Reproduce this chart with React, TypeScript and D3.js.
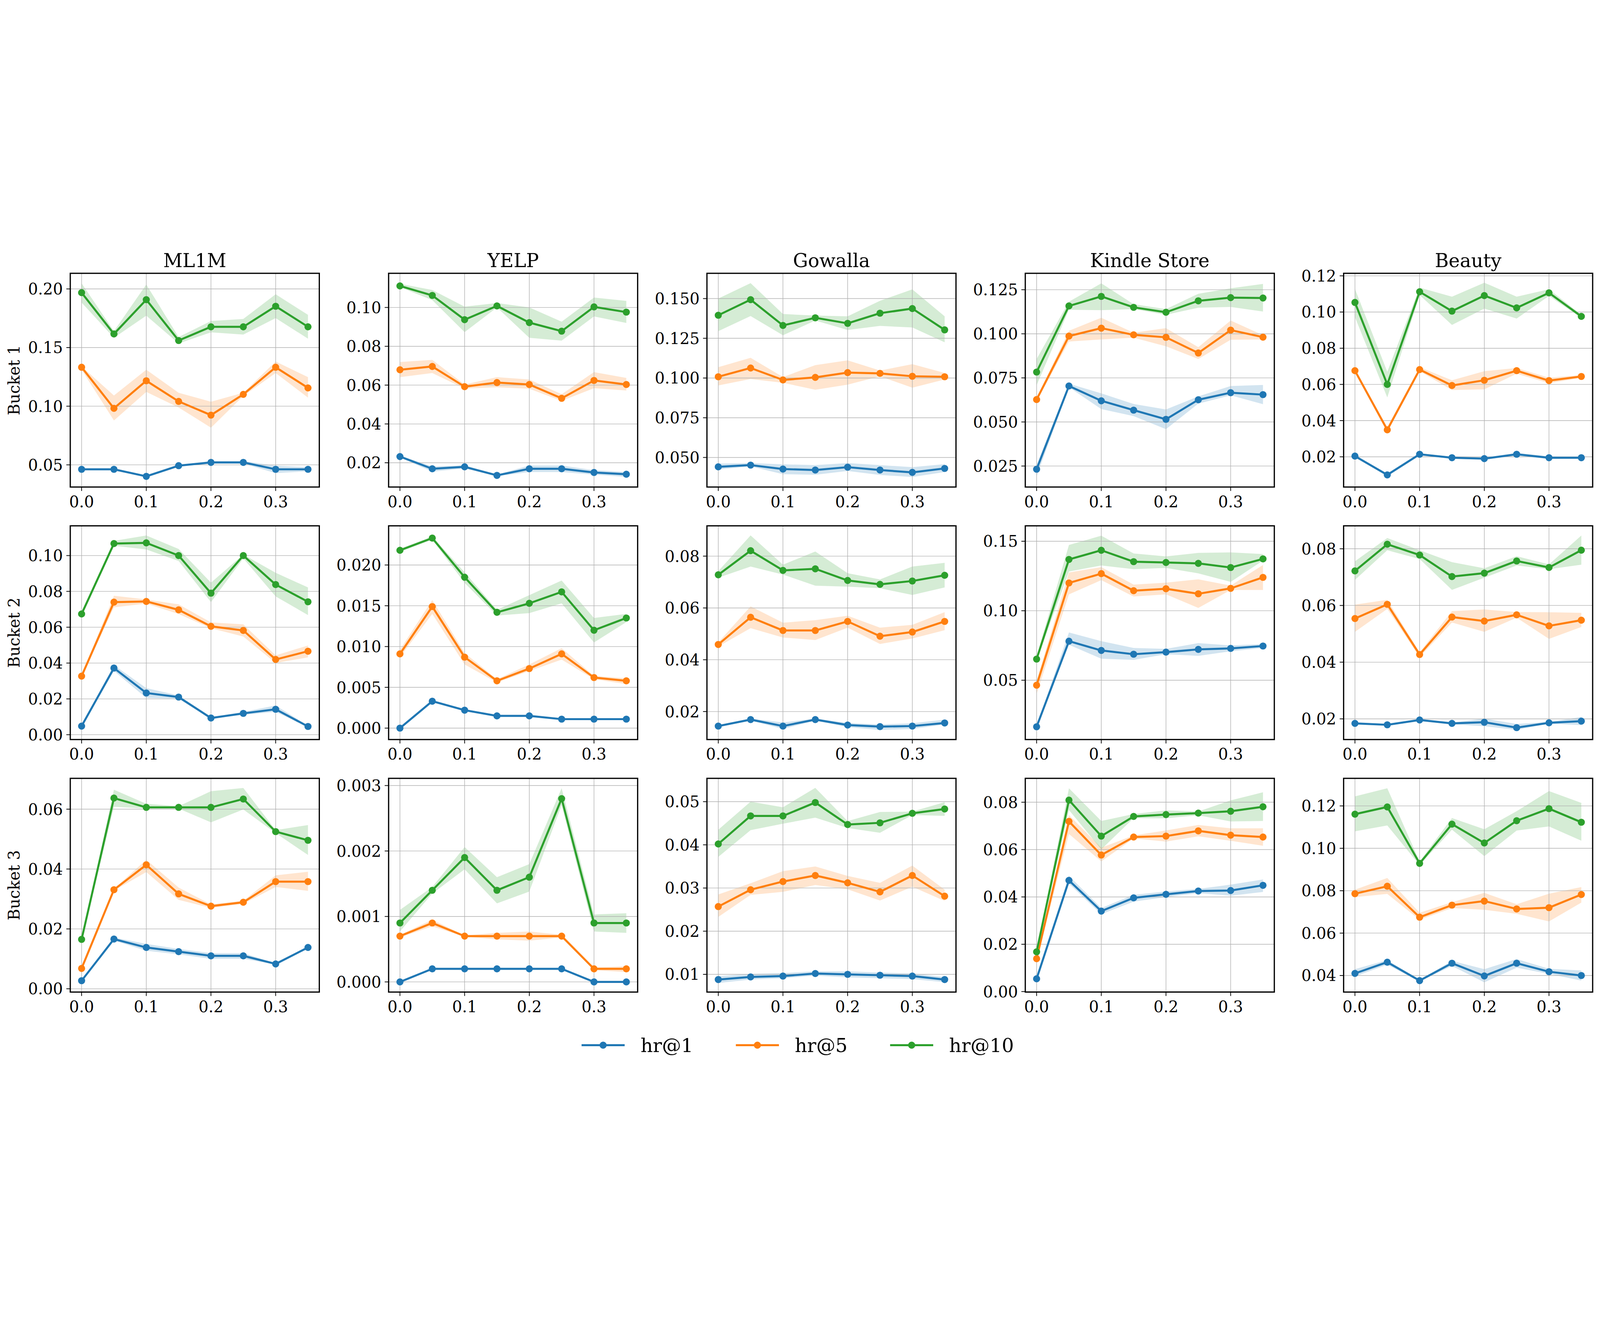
import React from "react"
import * as d3 from "d3"

const xs = [0, 0.05, 0.1, 0.15, 0.2, 0.25, 0.3, 0.35]
const xTicks = [0, 0.1, 0.2, 0.3]
const datasets = ["ML1M", "YELP", "Gowalla", "Kindle Store", "Beauty"]
const buckets = ["Bucket 1", "Bucket 2", "Bucket 3"]
const metrics = ["hr@1", "hr@5", "hr@10"]
const colors = ["#1f77b4", "#ff7f0e", "#2ca02c"]

// ---- Bucket 1 (rows: ML1M, YELP, Gowalla, Kindle Store, Beauty)
const hr1B1 = [
  [0.0462, 0.0462, 0.0402, 0.0493, 0.0521, 0.0521, 0.0462, 0.0462],
  [0.0232, 0.0169, 0.0179, 0.0135, 0.0169, 0.0169, 0.015, 0.0141],
  [0.0441, 0.0452, 0.0427, 0.0421, 0.0439, 0.0421, 0.0406, 0.0431],
  [0.0232, 0.0704, 0.062, 0.0567, 0.0515, 0.0626, 0.0666, 0.0655],
  [0.0204, 0.01, 0.0214, 0.0195, 0.019, 0.0214, 0.0195, 0.0195],
]
const hr1B1Lo = [
  [0.0452, 0.0452, 0.0398, 0.0488, 0.051, 0.051, 0.043, 0.0445],
  [0.0227, 0.0154, 0.0171, 0.0131, 0.0152, 0.0152, 0.0139, 0.0127],
  [0.0424, 0.0444, 0.0395, 0.0391, 0.0415, 0.039, 0.0377, 0.0408],
  [0.0192, 0.0697, 0.0573, 0.0533, 0.0459, 0.0604, 0.0651, 0.0601],
  [0.0199, 0.0093, 0.0209, 0.019, 0.0185, 0.0206, 0.0188, 0.0189],
]
const hr1B1Hi = [
  [0.0472, 0.0472, 0.0406, 0.0498, 0.0532, 0.0532, 0.0493, 0.048],
  [0.0237, 0.0181, 0.0187, 0.0139, 0.0186, 0.0186, 0.0162, 0.0152],
  [0.0462, 0.0465, 0.0457, 0.0452, 0.0465, 0.0452, 0.0439, 0.0458],
  [0.0257, 0.0717, 0.0662, 0.0602, 0.0571, 0.0645, 0.0704, 0.071],
  [0.0209, 0.0107, 0.0219, 0.02, 0.0195, 0.0222, 0.0202, 0.0201],
]
const hr5B1 = [
  [0.1332, 0.0982, 0.1217, 0.1041, 0.0924, 0.1101, 0.1332, 0.1156],
  [0.0679, 0.0696, 0.0592, 0.0613, 0.0603, 0.0532, 0.0624, 0.0603],
  [0.1008, 0.1063, 0.0988, 0.1004, 0.1034, 0.1029, 0.1011, 0.1008],
  [0.0627, 0.0987, 0.1032, 0.0994, 0.098, 0.0891, 0.1021, 0.0981],
  [0.0676, 0.0349, 0.0682, 0.0594, 0.0623, 0.0676, 0.0621, 0.0644],
]
const hr5B1Lo = [
  [0.1311, 0.0878, 0.1122, 0.0989, 0.0817, 0.1087, 0.1283, 0.1073],
  [0.0641, 0.0662, 0.0582, 0.0589, 0.0581, 0.0519, 0.0584, 0.0572],
  [0.0953, 0.0994, 0.097, 0.0926, 0.0958, 0.1011, 0.0939, 0.0991],
  [0.0617, 0.0956, 0.0968, 0.0978, 0.0929, 0.0857, 0.0966, 0.0968],
  [0.0668, 0.0338, 0.0673, 0.0569, 0.0573, 0.0659, 0.0607, 0.0636],
]
const hr5B1Hi = [
  [0.1339, 0.1091, 0.1311, 0.1115, 0.1038, 0.1115, 0.1381, 0.1248],
  [0.0719, 0.073, 0.0603, 0.0641, 0.0629, 0.0553, 0.0667, 0.0637],
  [0.1068, 0.1127, 0.1006, 0.1081, 0.1111, 0.1047, 0.1087, 0.1032],
  [0.0637, 0.1017, 0.1091, 0.1006, 0.1032, 0.0924, 0.1075, 0.0992],
  [0.0684, 0.0365, 0.0695, 0.0623, 0.0673, 0.0691, 0.0637, 0.0652],
]
const hr10B1 = [
  [0.1968, 0.1616, 0.1908, 0.156, 0.1677, 0.1677, 0.1852, 0.1677],
  [0.1111, 0.1062, 0.0937, 0.1008, 0.0922, 0.0878, 0.1003, 0.0976],
  [0.1395, 0.1493, 0.1331, 0.1379, 0.1344, 0.1408, 0.1437, 0.1303],
  [0.0783, 0.1158, 0.1212, 0.115, 0.1122, 0.1187, 0.1205, 0.1203],
  [0.1053, 0.06, 0.1112, 0.1005, 0.1091, 0.1023, 0.1106, 0.0976],
]
const hr10B1Lo = [
  [0.1884, 0.1583, 0.1772, 0.1535, 0.163, 0.1611, 0.1751, 0.1576],
  [0.1105, 0.1038, 0.0873, 0.1, 0.0844, 0.0829, 0.0954, 0.092],
  [0.1295, 0.139, 0.1269, 0.1362, 0.1302, 0.1328, 0.1318, 0.1225],
  [0.0708, 0.1136, 0.1134, 0.114, 0.1108, 0.1148, 0.1152, 0.1126],
  [0.0972, 0.0528, 0.1094, 0.0929, 0.1019, 0.0964, 0.1089, 0.0967],
]
const hr10B1Hi = [
  [0.2048, 0.164, 0.2038, 0.159, 0.1726, 0.1744, 0.1954, 0.1779],
  [0.1122, 0.109, 0.1004, 0.1023, 0.1, 0.0927, 0.1051, 0.1034],
  [0.15, 0.1597, 0.1403, 0.1393, 0.1388, 0.1486, 0.1558, 0.1388],
  [0.0857, 0.1182, 0.1286, 0.1168, 0.114, 0.1227, 0.1258, 0.1283],
  [0.1128, 0.067, 0.1135, 0.1085, 0.1162, 0.1085, 0.1126, 0.0985],
]

// ---- Bucket 2
const hr1B2 = [
  [0.0048, 0.0372, 0.0233, 0.021, 0.0093, 0.0119, 0.0142, 0.0046],
  [0.0, 0.0033, 0.0022, 0.0015, 0.0015, 0.0011, 0.0011, 0.0011],
  [0.0144, 0.0169, 0.0144, 0.0169, 0.0148, 0.0142, 0.0144, 0.0156],
  [0.0165, 0.0781, 0.0714, 0.0687, 0.0702, 0.0722, 0.0729, 0.0746],
  [0.0184, 0.0179, 0.0196, 0.0184, 0.0188, 0.0169, 0.0186, 0.0192],
]
const hr1B2Lo = [
  [0.0044, 0.0356, 0.0205, 0.0201, 0.0089, 0.0111, 0.0128, 0.0042],
  [0.0, 0.0032, 0.0021, 0.0014, 0.0014, 0.001, 0.001, 0.001],
  [0.014, 0.0165, 0.0133, 0.0165, 0.014, 0.0129, 0.0133, 0.015],
  [0.016, 0.0755, 0.0655, 0.0646, 0.0687, 0.0675, 0.0708, 0.0732],
  [0.0181, 0.0176, 0.0193, 0.0181, 0.0174, 0.0161, 0.0183, 0.0178],
]
const hr1B2Hi = [
  [0.0052, 0.0388, 0.026, 0.0219, 0.0097, 0.0127, 0.0163, 0.005],
  [0.0, 0.0034, 0.0023, 0.0016, 0.0016, 0.0012, 0.0012, 0.0012],
  [0.0148, 0.0173, 0.0158, 0.0173, 0.0156, 0.015, 0.0155, 0.0169],
  [0.017, 0.0844, 0.0781, 0.0732, 0.0726, 0.0767, 0.075, 0.076],
  [0.0187, 0.0182, 0.0199, 0.0187, 0.0201, 0.0182, 0.0189, 0.0207],
]
const hr5B2 = [
  [0.0327, 0.074, 0.0744, 0.0697, 0.0605, 0.0582, 0.042, 0.0466],
  [0.0091, 0.0149, 0.0087, 0.0058, 0.0073, 0.0091, 0.0062, 0.0058],
  [0.0459, 0.0564, 0.0513, 0.0513, 0.0548, 0.0491, 0.0507, 0.0548],
  [0.0464, 0.12, 0.1267, 0.1144, 0.1158, 0.1122, 0.1161, 0.124],
  [0.0554, 0.0604, 0.0427, 0.0559, 0.0545, 0.0567, 0.0528, 0.0548],
]
const hr5B2Lo = [
  [0.0322, 0.0711, 0.0732, 0.0674, 0.0594, 0.0548, 0.04, 0.0432],
  [0.0087, 0.014, 0.0078, 0.0056, 0.007, 0.0084, 0.006, 0.0054],
  [0.0451, 0.0522, 0.0486, 0.0476, 0.0524, 0.0461, 0.0482, 0.0514],
  [0.0402, 0.1118, 0.122, 0.1102, 0.1118, 0.102, 0.1149, 0.1149],
  [0.0507, 0.0588, 0.0418, 0.054, 0.0507, 0.0557, 0.0482, 0.0524],
]
const hr5B2Hi = [
  [0.0332, 0.0776, 0.0755, 0.0728, 0.0627, 0.0616, 0.0443, 0.0498],
  [0.0096, 0.0157, 0.0092, 0.006, 0.0078, 0.0098, 0.0064, 0.0061],
  [0.0467, 0.0606, 0.0543, 0.0553, 0.057, 0.0524, 0.0535, 0.0584],
  [0.0496, 0.1275, 0.1314, 0.1188, 0.1202, 0.1226, 0.1181, 0.1329],
  [0.0603, 0.062, 0.0435, 0.058, 0.0586, 0.0577, 0.0576, 0.0574],
]
const hr10B2 = [
  [0.0674, 0.1067, 0.1071, 0.1, 0.079, 0.1, 0.0838, 0.0742],
  [0.0218, 0.0233, 0.0185, 0.0142, 0.0153, 0.0167, 0.012, 0.0135],
  [0.0728, 0.0821, 0.0745, 0.0751, 0.0706, 0.0691, 0.0704, 0.0726],
  [0.0652, 0.1369, 0.1435, 0.1353, 0.1347, 0.1341, 0.1311, 0.1373],
  [0.0722, 0.0816, 0.0778, 0.0702, 0.0714, 0.0757, 0.0734, 0.0795],
]
const hr10B2Lo = [
  [0.0668, 0.1055, 0.1034, 0.097, 0.074, 0.0984, 0.0772, 0.0668],
  [0.0216, 0.0231, 0.0178, 0.0138, 0.0141, 0.0153, 0.0105, 0.013],
  [0.0717, 0.076, 0.0729, 0.0686, 0.0682, 0.0676, 0.065, 0.0679],
  [0.064, 0.1282, 0.1326, 0.1299, 0.1308, 0.1269, 0.1208, 0.1361],
  [0.069, 0.0795, 0.0764, 0.0655, 0.0698, 0.0741, 0.0728, 0.0744],
]
const hr10B2Hi = [
  [0.068, 0.1082, 0.1112, 0.1037, 0.0849, 0.1006, 0.0904, 0.0822],
  [0.022, 0.0235, 0.0191, 0.0145, 0.0163, 0.0181, 0.0135, 0.014],
  [0.0742, 0.088, 0.0767, 0.0818, 0.0734, 0.071, 0.076, 0.0774],
  [0.0673, 0.1473, 0.154, 0.1412, 0.1391, 0.1416, 0.142, 0.1408],
  [0.0756, 0.0838, 0.0795, 0.0753, 0.0731, 0.0774, 0.0745, 0.0847],
]

// ---- Bucket 3
const hr1B3 = [
  [0.0027, 0.0166, 0.0138, 0.0124, 0.011, 0.011, 0.0083, 0.0138],
  [0.0, 0.0002, 0.0002, 0.0002, 0.0002, 0.0002, 0.0, 0.0],
  [0.0088, 0.0094, 0.0096, 0.0102, 0.01, 0.0098, 0.0096, 0.0088],
  [0.0054, 0.047, 0.034, 0.0396, 0.0411, 0.0425, 0.0427, 0.0449],
  [0.041, 0.0463, 0.0376, 0.0458, 0.0398, 0.0458, 0.0418, 0.04],
]
const hr1B3Lo = [
  [0.0025, 0.0161, 0.0127, 0.0115, 0.01, 0.01, 0.0081, 0.0136],
  [0.0, 0.0002, 0.0002, 0.0002, 0.0002, 0.0002, 0.0, 0.0],
  [0.008, 0.0088, 0.0091, 0.0097, 0.0093, 0.0091, 0.0089, 0.0082],
  [0.0048, 0.0456, 0.0327, 0.038, 0.0399, 0.0416, 0.0405, 0.0421],
  [0.0396, 0.0451, 0.0372, 0.0445, 0.0368, 0.0437, 0.0408, 0.0376],
]
const hr1B3Hi = [
  [0.0029, 0.0171, 0.015, 0.0133, 0.0119, 0.0119, 0.0085, 0.014],
  [0.0, 0.0002, 0.0002, 0.0002, 0.0002, 0.0002, 0.0, 0.0],
  [0.0096, 0.0101, 0.0103, 0.0107, 0.0107, 0.0104, 0.0102, 0.0094],
  [0.006, 0.0489, 0.0353, 0.0409, 0.0423, 0.0434, 0.0452, 0.0474],
  [0.043, 0.0473, 0.038, 0.0469, 0.043, 0.0478, 0.0432, 0.0424],
]
const hr5B3 = [
  [0.0068, 0.0331, 0.0414, 0.0317, 0.0276, 0.0289, 0.0358, 0.0358],
  [0.0007, 0.0009, 0.0007, 0.0007, 0.0007, 0.0007, 0.0002, 0.0002],
  [0.0257, 0.0296, 0.0315, 0.0329, 0.0312, 0.0291, 0.0329, 0.0281],
  [0.0139, 0.0719, 0.0577, 0.0653, 0.0657, 0.0679, 0.0661, 0.0653],
  [0.0786, 0.0821, 0.0675, 0.0732, 0.0751, 0.0714, 0.072, 0.0782],
]
const hr5B3Lo = [
  [0.0065, 0.0328, 0.039, 0.0297, 0.027, 0.0284, 0.034, 0.0327],
  [0.00068, 0.00085, 0.00069, 0.00065, 0.00063, 0.00068, 0.00018, 0.00015],
  [0.0233, 0.0284, 0.0291, 0.0307, 0.0297, 0.0271, 0.0303, 0.027],
  [0.0132, 0.0666, 0.055, 0.0647, 0.0634, 0.0656, 0.0637, 0.0616],
  [0.077, 0.0785, 0.0663, 0.0718, 0.071, 0.0691, 0.0655, 0.0744],
]
const hr5B3Hi = [
  [0.0071, 0.0334, 0.0431, 0.0338, 0.0282, 0.0294, 0.0379, 0.0391],
  [0.00072, 0.00095, 0.00071, 0.00075, 0.00077, 0.00072, 0.00022, 0.00024],
  [0.0285, 0.0311, 0.0339, 0.035, 0.0328, 0.0312, 0.0352, 0.0296],
  [0.0146, 0.0746, 0.0608, 0.066, 0.0681, 0.0704, 0.069, 0.069],
  [0.0805, 0.086, 0.0696, 0.0746, 0.079, 0.0736, 0.0786, 0.0817],
]
const hr10B3 = [
  [0.0165, 0.0637, 0.0606, 0.0606, 0.0606, 0.0634, 0.0525, 0.0496],
  [0.0009, 0.0014, 0.0019, 0.0014, 0.0016, 0.0028, 0.0009, 0.0009],
  [0.0402, 0.0467, 0.0467, 0.0498, 0.0447, 0.0451, 0.0473, 0.0483],
  [0.0168, 0.0809, 0.0657, 0.074, 0.0748, 0.0754, 0.0762, 0.0781],
  [0.1161, 0.1195, 0.0929, 0.1114, 0.1025, 0.113, 0.1187, 0.1123],
]
const hr10B3Lo = [
  [0.0162, 0.0608, 0.0602, 0.0602, 0.0556, 0.0599, 0.052, 0.0447],
  [0.00077, 0.00135, 0.00172, 0.0012, 0.00138, 0.0027, 0.00077, 0.00075],
  [0.0372, 0.0434, 0.0449, 0.0463, 0.0439, 0.0428, 0.0469, 0.0467],
  [0.016, 0.0767, 0.0601, 0.0733, 0.0732, 0.0745, 0.0719, 0.0721],
  [0.108, 0.1108, 0.0921, 0.1088, 0.0963, 0.1084, 0.1103, 0.1036],
]
const hr10B3Hi = [
  [0.0168, 0.0665, 0.0618, 0.061, 0.066, 0.0671, 0.053, 0.0547],
  [0.0011, 0.00145, 0.00206, 0.0016, 0.0018, 0.00296, 0.00103, 0.00105],
  [0.0435, 0.05, 0.0487, 0.0532, 0.0455, 0.0476, 0.0477, 0.0499],
  [0.0176, 0.0859, 0.0721, 0.075, 0.0766, 0.0761, 0.0808, 0.0842],
  [0.1245, 0.1283, 0.0938, 0.1143, 0.109, 0.1175, 0.127, 0.1214],
]

// y-axis limits and ticks per bucket (columns follow datasets)
const yDomainB1 = [[0.0311, 0.2133], [0.0075, 0.1176], [0.0314, 0.1659], [0.0131, 0.1343], [0.0033, 0.1214]]
const yDomainB2 = [[-0.0027, 0.1166], [-0.0014, 0.0248], [0.0092, 0.0917], [0.0073, 0.1611], [0.0127, 0.0881]]
const yDomainB3 = [[-0.0011, 0.0703], [-0.000155, 0.00311], [0.0059, 0.0554], [-0.0002, 0.0901], [0.0322, 0.133]]

const yTicksB1 = [
  [0.05, 0.1, 0.15, 0.2],
  [0.02, 0.04, 0.06, 0.08, 0.1],
  [0.05, 0.075, 0.1, 0.125, 0.15],
  [0.025, 0.05, 0.075, 0.1, 0.125],
  [0.02, 0.04, 0.06, 0.08, 0.1, 0.12],
]
const yTicksB2 = [
  [0, 0.02, 0.04, 0.06, 0.08, 0.1],
  [0, 0.005, 0.01, 0.015, 0.02],
  [0.02, 0.04, 0.06, 0.08],
  [0.05, 0.1, 0.15],
  [0.02, 0.04, 0.06, 0.08],
]
const yTicksB3 = [
  [0, 0.02, 0.04, 0.06],
  [0, 0.001, 0.002, 0.003],
  [0.01, 0.02, 0.03, 0.04, 0.05],
  [0, 0.02, 0.04, 0.06, 0.08],
  [0.04, 0.06, 0.08, 0.1, 0.12],
]
const yDecimalsB1 = [2, 2, 3, 3, 2]
const yDecimalsB2 = [2, 3, 2, 2, 2]
const yDecimalsB3 = [2, 3, 2, 2, 2]

const meanTable = [
  [hr1B1, hr5B1, hr10B1],
  [hr1B2, hr5B2, hr10B2],
  [hr1B3, hr5B3, hr10B3],
]
const loTable = [
  [hr1B1Lo, hr5B1Lo, hr10B1Lo],
  [hr1B2Lo, hr5B2Lo, hr10B2Lo],
  [hr1B3Lo, hr5B3Lo, hr10B3Lo],
]
const hiTable = [
  [hr1B1Hi, hr5B1Hi, hr10B1Hi],
  [hr1B2Hi, hr5B2Hi, hr10B2Hi],
  [hr1B3Hi, hr5B3Hi, hr10B3Hi],
]
const domainTable = [yDomainB1, yDomainB2, yDomainB3]
const tickTable = [yTicksB1, yTicksB2, yTicksB3]
const decimalTable = [yDecimalsB1, yDecimalsB2, yDecimalsB3]

const W = 6534
const H = 3375
const PW = 1017
const PH = 873
const FONT = "DejaVu Serif"
const TICK_FS = 64
const LW = 8.3
const MR = 14.5

const lefts = d3.range(5).map((i) => 287 + i * 1300)
const tops = d3.range(3).map((j) => 112 + j * 1031.5)

const Panel = ({ b, d }: { b: number; d: number }) => {
  const x = d3.scaleLinear().domain([-0.0175, 0.3675]).range([0, PW])
  const y = d3.scaleLinear().domain(domainTable[b][d]).range([PH, 0])
  const fmt = d3.format(`.${decimalTable[b][d]}f`)
  const yTicks = tickTable[b][d]

  const line = d3
    .line<number>()
    .x((_, i) => x(xs[i]))
    .y((v) => y(v))

  return (
    <g transform={`translate(${lefts[d]},${tops[b]})`}>
      {/* confidence bands */}
      {metrics.map((m, k) => {
        const lo = loTable[b][k][d]
        const hi = hiTable[b][k][d]
        const area = d3
          .area<number>()
          .x((_, i) => x(xs[i]))
          .y0((_, i) => y(lo[i]))
          .y1((_, i) => y(hi[i]))
        return <path key={m} d={area(xs) || ""} fill={colors[k]} fillOpacity={0.2} stroke="none" />
      })}
      {/* grid */}
      {xTicks.map((t) => (
        <line key={`gx${t}`} x1={x(t)} x2={x(t)} y1={0} y2={PH} stroke="#b0b0b0" strokeWidth={2.2} />
      ))}
      {yTicks.map((t) => (
        <line key={`gy${t}`} x1={0} x2={PW} y1={y(t)} y2={y(t)} stroke="#b0b0b0" strokeWidth={2.2} />
      ))}
      {/* lines + markers */}
      {metrics.map((m, k) => {
        const vals = meanTable[b][k][d]
        return (
          <g key={m}>
            <path d={line(vals) || ""} fill="none" stroke={colors[k]} strokeWidth={LW} strokeLinejoin="round" />
            {vals.map((v, i) => (
              <circle key={i} cx={x(xs[i])} cy={y(v)} r={MR} fill={colors[k]} />
            ))}
          </g>
        )
      })}
      {/* frame */}
      <rect x={0} y={0} width={PW} height={PH} fill="none" stroke="#000" strokeWidth={5} />
      {/* x ticks */}
      {xTicks.map((t) => (
        <g key={`tx${t}`} transform={`translate(${x(t)},${PH})`}>
          <line y1={0} y2={16} stroke="#000" strokeWidth={3} />
          <text y={82} textAnchor="middle" fontFamily={FONT} fontSize={TICK_FS} fill="#000">
            {t.toFixed(1)}
          </text>
        </g>
      ))}
      {/* y ticks */}
      {yTicks.map((t) => (
        <g key={`ty${t}`} transform={`translate(0,${y(t)})`}>
          <line x1={0} x2={-16} stroke="#000" strokeWidth={3} />
          <text x={-30} dy="0.36em" textAnchor="end" fontFamily={FONT} fontSize={TICK_FS} fill="#000">
            {fmt(t)}
          </text>
        </g>
      ))}
      {b === 0 && (
        <text x={PW / 2} y={-25} textAnchor="middle" fontFamily={FONT} fontSize={77} fill="#000">
          {datasets[d]}
        </text>
      )}
      {d === 0 && (
        <text
          transform={`translate(${57 - lefts[0] + 22},${PH / 2}) rotate(-90)`}
          textAnchor="middle"
          fontFamily={FONT}
          fontSize={TICK_FS}
          fill="#000"
        >
          {buckets[b]}
        </text>
      )}
    </g>
  )
}

const Legend = () => {
  const lx = d3.scaleLinear().domain([0, 1]).range([2375, 3005])
  const ly = 3265
  return (
    <g>
      {metrics.map((m, k) => (
        <g key={m} transform={`translate(${lx(k)},${ly})`}>
          <line x1={0} x2={176} stroke={colors[k]} strokeWidth={LW} />
          <circle cx={88} cy={0} r={MR} fill={colors[k]} />
          <text x={241} dy="0.36em" fontFamily={FONT} fontSize={78} fill="#000">
            {m}
          </text>
        </g>
      ))}
    </g>
  )
}

export default function App() {
  return (
    <svg
      width="100vw"
      height="100vh"
      viewBox={`0 0 ${W} ${H}`}
      preserveAspectRatio="xMidYMid meet"
      style={{ position: "fixed", left: 0, top: 0, display: "block", background: "#fff" }}
    >
      <rect width={W} height={H} fill="#fff" />
      {buckets.map((_, b) => datasets.map((__, d) => <Panel key={`${b}-${d}`} b={b} d={d} />))}
      <Legend />
    </svg>
  )
}
